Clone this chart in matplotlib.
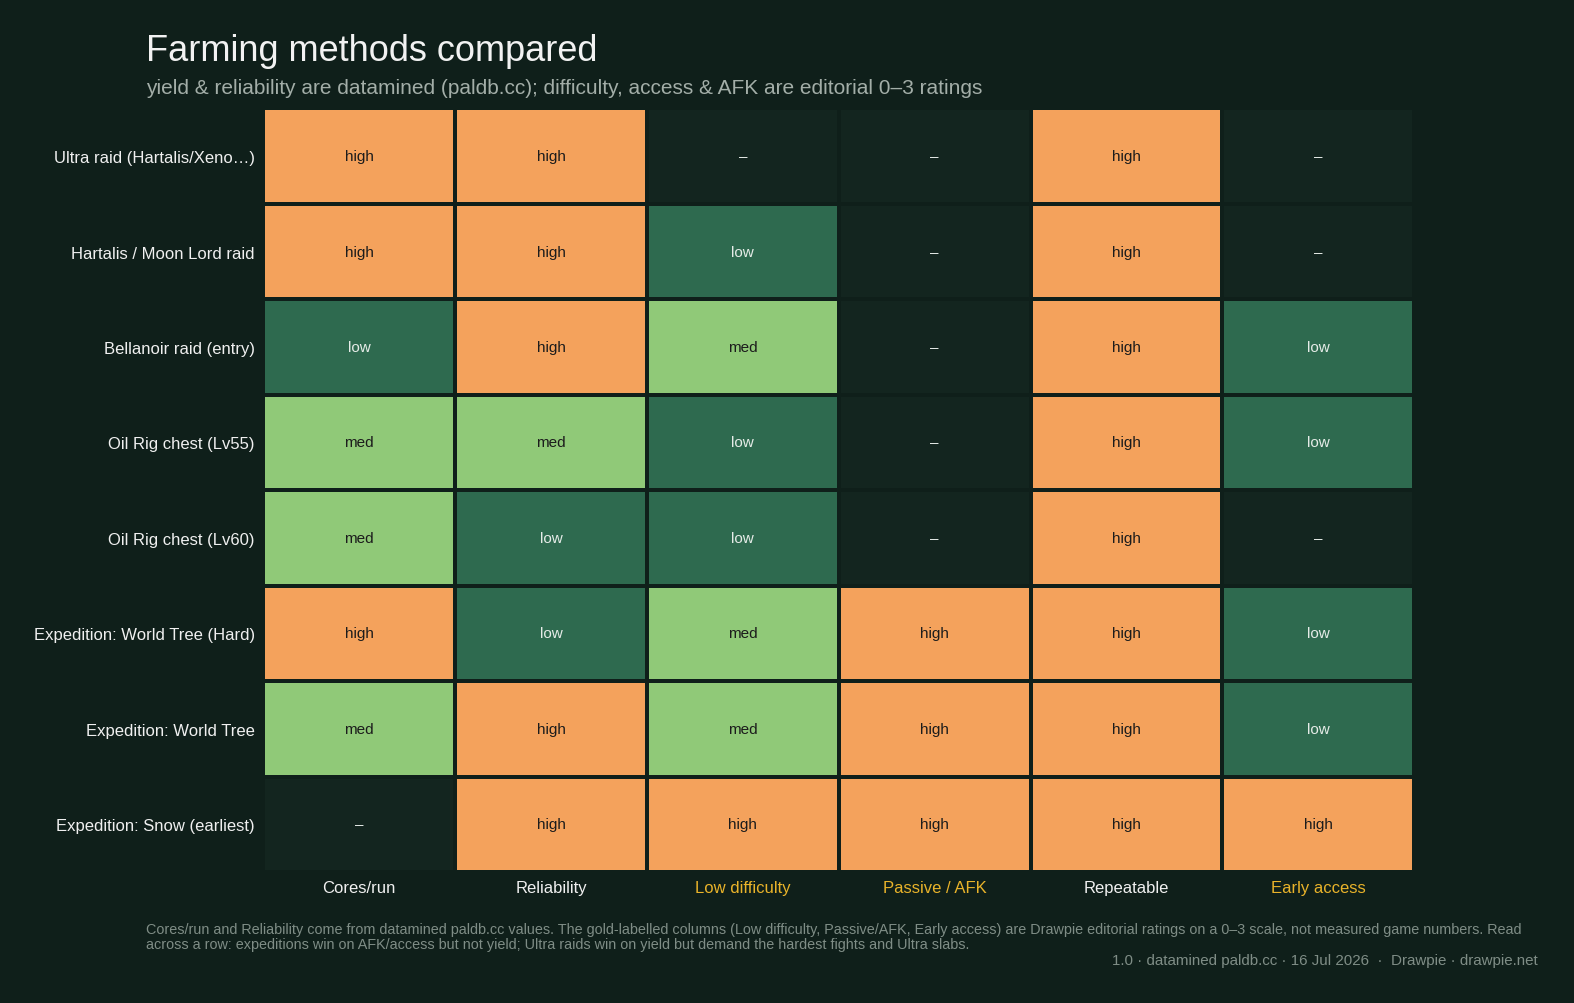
import numpy as np
import matplotlib
matplotlib.use("Agg")
import matplotlib.pyplot as plt
from matplotlib.colors import ListedColormap, BoundaryNorm

plt.rcParams['font.family'] = ['Liberation Sans', 'DejaVu Sans']

# Данные: 0 = нет, 1 = low, 2 = med, 3 = high
methods = [
    "Ultra raid (Hartalis/Xeno…)",
    "Hartalis / Moon Lord raid",
    "Bellanoir raid (entry)",
    "Oil Rig chest (Lv55)",
    "Oil Rig chest (Lv60)",
    "Expedition: World Tree (Hard)",
    "Expedition: World Tree",
    "Expedition: Snow (earliest)",
]
columns = ["Cores/run", "Reliability", "Low difficulty", "Passive / AFK", "Repeatable", "Early access"]
editorial = [False, False, True, True, False, True]
ratings = [
    [3, 3, 0, 0, 3, 0],
    [3, 3, 1, 0, 3, 0],
    [1, 3, 2, 0, 3, 1],
    [2, 2, 1, 0, 3, 1],
    [2, 1, 1, 0, 3, 0],
    [3, 1, 2, 3, 3, 1],
    [2, 3, 2, 3, 3, 1],
    [0, 3, 3, 3, 3, 3],
]
level_names = ["–", "low", "med", "high"]

bg = "#0f1f1a"
cell_colors = ["#13251f", "#2e6a4f", "#90c978", "#f4a25c"]
gold = "#e9b32a"

z = np.array(ratings)
fig = plt.figure(figsize=(15.74, 10.04), dpi=100)
fig.patch.set_facecolor(bg)
ax = fig.add_axes([0.1672, 0.1305, 0.7313, 0.7605])
ax.set_facecolor(bg)

cmap = ListedColormap(cell_colors)
norm = BoundaryNorm([-0.5, 0.5, 1.5, 2.5, 3.5], cmap.N)
ax.pcolormesh(np.arange(len(columns) + 1), np.arange(len(methods) + 1), z,
              cmap=cmap, norm=norm, edgecolors=bg, linewidth=1.7)
ax.set_xlim(0, len(columns))
ax.set_ylim(len(methods), 0)

for i in range(len(methods)):
    for j in range(len(columns)):
        v = z[i, j]
        tc = "#1c1c1c" if v >= 2 else "#e6ece8"
        ax.text(j + 0.5, i + 0.5, level_names[v], ha='center', va='center',
                fontsize=11, color=tc)

ax.set_xticks(np.arange(len(columns)) + 0.5)
ax.set_xticklabels(columns, fontsize=12)
for lbl, ed in zip(ax.get_xticklabels(), editorial):
    lbl.set_color(gold if ed else "#f0f0f0")
ax.set_yticks(np.arange(len(methods)) + 0.5)
ax.set_yticklabels(methods, fontsize=12, color="#f0f0f0")
ax.tick_params(length=0, pad=6)
for spine in ax.spines.values():
    spine.set_visible(False)

fig.text(0.0925, 0.949, "Farming methods compared", fontsize=26, color="#f2f2f2",
         ha='left', va='center')
fig.text(0.0925, 0.912,
         "yield & reliability are datamined (paldb.cc); difficulty, access & AFK are editorial 0–3 ratings",
         fontsize=15, color="#a3aea8", ha='left', va='center')
fig.text(0.0925, 0.066,
         "Cores/run and Reliability come from datamined paldb.cc values. The gold-labelled columns (Low difficulty, Passive/AFK, Early access) are Drawpie editorial ratings on a 0–3 scale, not measured game numbers. Read\n"
         "across a row: expeditions win on AFK/access but not yield; Ultra raids win on yield but demand the hardest fights and Ultra slabs.",
         fontsize=10.35, color="#7f8d86", ha='left', va='center', linespacing=1.05)
fig.text(0.977, 0.043, "1.0 · datamined paldb.cc · 16 Jul 2026  ·  Drawpie · drawpie.net",
         fontsize=10.9, color="#7f8d86", ha='right', va='center')

fig.savefig("out.png", dpi=100, facecolor=bg)
